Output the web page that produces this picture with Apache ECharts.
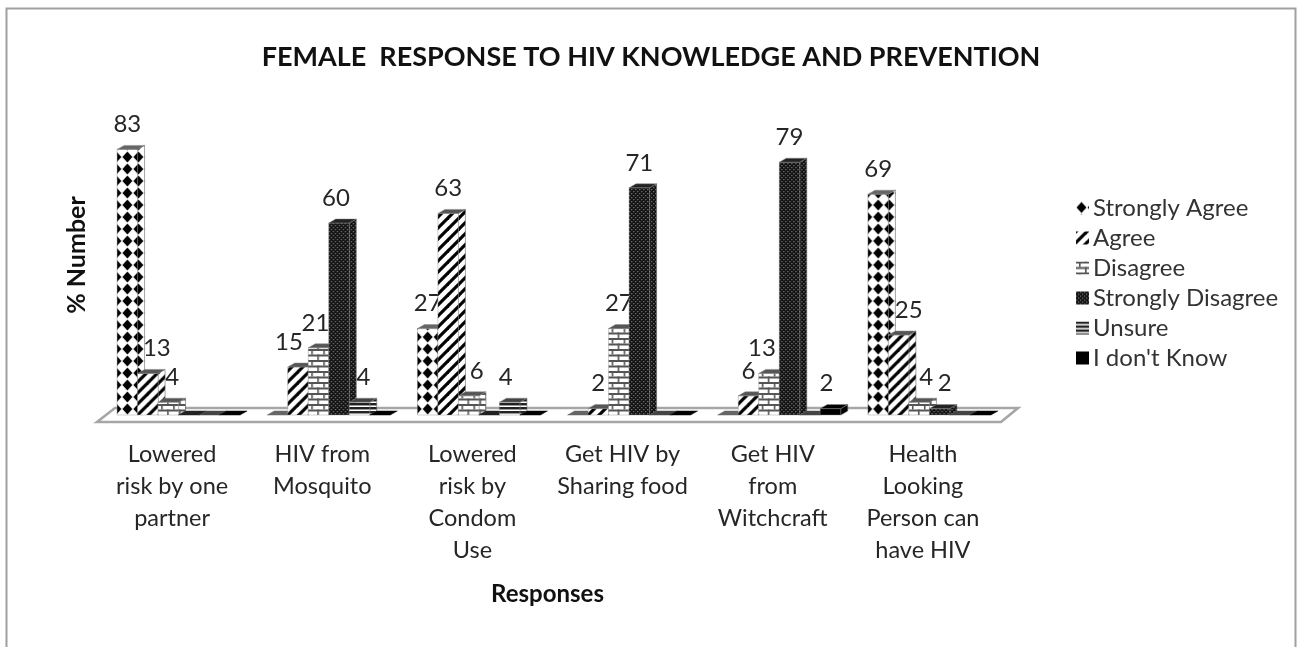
<!DOCTYPE html>
<html><head><meta charset="utf-8">
<style>html,body{margin:0;padding:0;background:#fff;overflow:hidden}#c{width:1297px;height:647px;filter:blur(0.45px)}</style>
<script src="https://cdn.jsdelivr.net/npm/echarts@6/dist/echarts.min.js"></script>
</head><body><div id="c"></div>
<script>
const categories = ['Lowered\nrisk by one\npartner','HIV from\nMosquito','Lowered\nrisk by\nCondom\nUse','Get HIV by\nSharing food','Get HIV\nfrom\nWitchcraft','Health\nLooking\nPerson can\nhave HIV'];
const stronglyAgree    = [83,0,27,0,0,69];
const agree            = [13,15,63,2,6,25];
const disagree         = [4,21,6,27,13,4];
const stronglyDisagree = [0,60,0,71,79,2];
const unsure           = [0,4,4,0,0,0];
const dontKnow         = [0,0,0,0,2,0];
const seriesNames = ['Strongly Agree','Agree','Disagree','Strongly Disagree','Unsure',"I don't Know"];
const seriesValues = [stronglyAgree,agree,disagree,stronglyDisagree,unsure,dontKnow];

function tile(w,h,draw){const c=document.createElement('canvas');c.width=w;c.height=h;const x=c.getContext('2d');x.fillStyle='#fff';x.fillRect(0,0,w,h);draw(x,w,h);return c;}
const tiles=[
 tile(11,12,(x,w,h)=>{x.fillStyle='#000';x.beginPath();x.moveTo(w/2,0.5);x.lineTo(w-0.5,h/2);x.lineTo(w/2,h-0.5);x.lineTo(0.5,h/2);x.closePath();x.fill();}),
 tile(11,11,(x,w,h)=>{x.strokeStyle='#000';x.lineWidth=3.2;for(let k=-1;k<=1;k++){x.beginPath();x.moveTo(k*w-1,h+1);x.lineTo(k*w+w+1,-1);x.stroke();}}),
 tile(12,11,(x,w,h)=>{x.fillStyle='#555';x.fillRect(0,0,w,2);x.fillRect(0,5.5,w,2);x.fillRect(3,0,1.6,5.5);x.fillRect(9,5.5,1.6,5.5);}),
 tile(4,4,(x,w,h)=>{x.fillStyle='#111';x.fillRect(0,0,w,h);x.fillStyle='#777';x.fillRect(0,0,1.3,1.3);x.fillRect(2,2,1.3,1.3);}),
 tile(4,4,(x,w,h)=>{x.fillStyle='#222';x.fillRect(0,0,w,2);x.fillStyle='#999';x.fillRect(0,2,w,1);}),
 tile(4,4,(x,w,h)=>{x.fillStyle='#000';x.fillRect(0,0,w,h);})
];
const topColors=['#666','#555','#555','#222','#444','#000'];
const BW=20.5,DX=7,DY=4,START=-55;
const labelNudge={'0-1':9,'0-2':4,'1-1':-9,'1-2':-3,'1-3':-3,'1-4':4,'2-2':8,'2-4':-4,'4-2':-7,'4-5':-4,'5-1':10,'5-2':7,'5-3':5};

const series=seriesValues.map((vals,s)=>({
  name:seriesNames[s],type:'custom',z:3+s,
  itemStyle:{color:{image:tiles[s],repeat:'repeat'}},
  encode:{x:0,y:1},
  data:vals.map((v,i)=>[i,v]),
  renderItem(params,api){
    const i=api.value(0),v=api.value(1);
    const base=api.coord([i,0]),top=api.coord([i,v]);
    const L=base[0]+START+s*BW,R=L+BW,B=base[1],T=top[1];
    const fill={image:tiles[s],repeat:'repeat',x:s===0?L+4.75:L,y:B};
    const kids=[];
    if(v>0){
      kids.push({type:'polygon',shape:{points:[[R,B],[R,T],[R+DX,T-DY],[R+DX,B-DY]]},style:{fill,stroke:'#666',lineWidth:0.6}});
      kids.push({type:'rect',shape:{x:L,y:T,width:BW,height:B-T},style:{fill,stroke:'#888',lineWidth:0.4}});
    }
    kids.push({type:'polygon',shape:{points:[[L,T],[R,T],[R+DX,T-DY],[L+DX,T-DY]]},style:{fill:topColors[s],stroke:v>0?'#888':topColors[s],lineWidth:0.5}});
    if(v>0){
      kids.push({type:'text',style:{text:String(v),x:L+BW/2+(labelNudge[i+'-'+s]||0),y:T-25,align:'center',verticalAlign:'middle',fontSize:24,fontFamily:'Lato',fill:'#262626'},z2:50});
    }
    return {type:'group',children:kids};
  }
}));
series.unshift({
  type:'custom',name:'floor',silent:true,z:1,data:[[0,0]],encode:{x:0,y:1},
  renderItem(params,api){
    const cs=params.coordSys,y=cs.y+cs.height;
    return {type:'polygon',shape:{points:[[cs.x,y+7],[cs.x+18,y-7],[cs.x+cs.width+20,y-7],[cs.x+cs.width+3,y+7]]},style:{fill:'#fff',stroke:'#a6a6a6',lineWidth:2.6}};
  }
});

const chart=echarts.init(document.getElementById('c'),null,{renderer:'canvas',width:1297,height:647});
chart.setOption({
  animation:false,backgroundColor:'#fff',
  title:{text:'FEMALE  RESPONSE TO HIV KNOWLEDGE AND PREVENTION',left:646,top:39,textAlign:'center',textStyle:{fontFamily:'Lato',fontWeight:'bold',fontSize:27,color:'#111'}},
  grid:{left:97,top:95,width:901,height:320},
  legend:{orient:'vertical',left:1071,top:191,itemWidth:13,itemHeight:13,itemGap:6,icon:'rect',data:seriesNames,selectedMode:false,
    itemStyle:{borderWidth:0},
    textStyle:{fontFamily:'Lato',fontSize:24,color:'#333',padding:[0,0,0,-1],lineHeight:22}},
  xAxis:{type:'category',data:categories,axisLine:{show:false},axisTick:{show:false},
    axisLabel:{interval:0,margin:23,fontFamily:'Lato',fontSize:23.5,lineHeight:32,color:'#262626',verticalAlign:'top'},
    name:'Responses',nameLocation:'middle',nameGap:167,nameTextStyle:{fontFamily:'Lato',fontWeight:'bold',fontSize:24,color:'#111'}},
  yAxis:{type:'value',min:0,max:100,show:true,axisLine:{show:false},axisTick:{show:false},axisLabel:{show:false},splitLine:{show:false},
    name:'% Number',nameLocation:'middle',nameGap:8,nameRotate:90,nameTextStyle:{fontFamily:'Lato',fontWeight:'bold',fontSize:25,color:'#111'}},
  series,
  graphic:[{type:'polyline',silent:true,shape:{points:[[6.5,660],[6.5,8.5],[1295.5,8.5],[1295.5,660]]},style:{stroke:'#a0a0a0',lineWidth:2,fill:null}}]
});
</script></body></html>
